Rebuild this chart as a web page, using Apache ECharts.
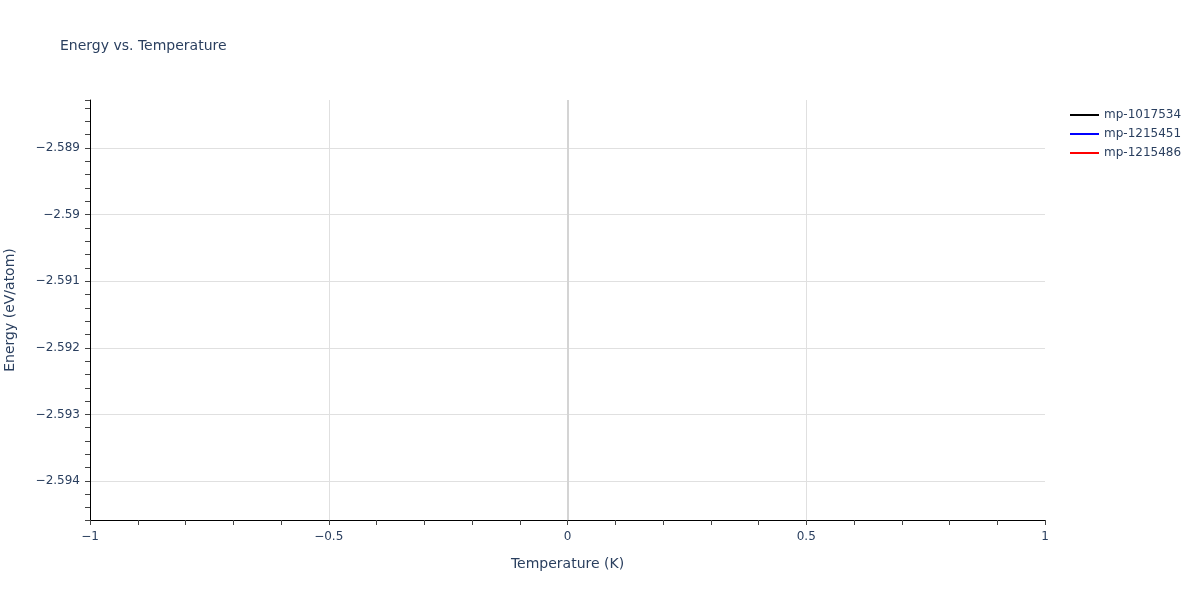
<!DOCTYPE html>
<html>
<head>
<meta charset="utf-8">
<script src="https://cdn.jsdelivr.net/npm/echarts@6/dist/echarts.min.js"></script>
<style>html,body{margin:0;padding:0;background:#fff}#c{width:1200px;height:600px}</style>
</head>
<body>
<div id="c"></div>
<script>
const seriesNames = ['mp-1017534', 'mp-1215451', 'mp-1215486'];
const seriesColors = ['#000000', '#0000ff', '#ff0000'];
const temperatures = [0];
const energies = [[-2.59143], [-2.59143], [-2.59143]];
const xRange = [-1, 1];
const yRange = [-2.594585, -2.58828];

const FONT = '"DejaVu Sans", verdana, sans-serif';
const TXT = '#2a3f5f';
const fmt = v => {
  const s = String(Math.round(v * 1e6) / 1e6);
  return s.replace('-', '\u2212');
};

const chart = echarts.init(document.getElementById('c'));
const series = seriesNames.map((n, i) => ({
  name: n,
  type: 'line',
  data: temperatures.map((t, j) => [t, energies[i][j]]),
  showSymbol: false,
  lineStyle: { color: seriesColors[i], width: 2 },
  itemStyle: { color: seriesColors[i] },
  markLine: i === 0 ? {
    silent: true, symbol: 'none', label: { show: false },
    lineStyle: { color: '#d4d4d4', width: 2, type: 'solid' },
    data: [{ xAxis: 0 }]
  } : undefined
}));

chart.setOption({
  animation: false,
  textStyle: { fontFamily: FONT },
  title: {
    text: 'Energy vs. Temperature', left: 55, top: 34,
    textStyle: { fontFamily: FONT, fontSize: 14, fontWeight: 'normal', color: TXT }
  },
  legend: {
    orient: 'vertical', left: 1065, top: 104,
    icon: 'rect', itemWidth: 29, itemHeight: 2, itemGap: 7,
    textStyle: { fontFamily: FONT, fontSize: 12, color: TXT },
    data: seriesNames
  },
  grid: { left: 90, right: 155, top: 100, bottom: 80, outerBoundsMode: 'none', containLabel: false },
  xAxis: {
    type: 'value', min: xRange[0], max: xRange[1], interval: 0.5,
    name: 'Temperature (K)', nameLocation: 'middle', nameGap: 37,
    nameTextStyle: { fontFamily: FONT, fontSize: 14, color: TXT },
    axisLine: { show: true, onZero: false, lineStyle: { color: '#000', width: 1 } },
    axisTick: { show: true, length: 5, lineStyle: { color: '#444' } },
    minorTick: { show: true, splitNumber: 5, length: 5, lineStyle: { color: '#444' } },
    axisLabel: { formatter: fmt, fontFamily: FONT, fontSize: 12, color: TXT, margin: 11 },
    splitLine: { show: true, showMinLine: false, showMaxLine: false, lineStyle: { color: '#e0e0e0', width: 1 } }
  },
  yAxis: {
    type: 'value', min: yRange[0], max: yRange[1], splitNumber: 5, scale: true,
    name: 'Energy (eV/atom)', nameLocation: 'middle', nameGap: 73, nameRotate: 90,
    nameTextStyle: { fontFamily: FONT, fontSize: 14, color: TXT },
    axisLine: { show: true, onZero: false, lineStyle: { color: '#000', width: 1 } },
    axisTick: { show: true, length: 5, lineStyle: { color: '#444' } },
    minorTick: { show: true, splitNumber: 5, length: 5, lineStyle: { color: '#444' } },
    axisLabel: { formatter: fmt, fontFamily: FONT, fontSize: 12, color: TXT, margin: 10, showMinLabel: false, showMaxLabel: false },
    splitLine: { show: true, showMinLine: false, showMaxLine: false, lineStyle: { color: '#e0e0e0', width: 1 } }
  },
  series: series
});
</script>
</body>
</html>
